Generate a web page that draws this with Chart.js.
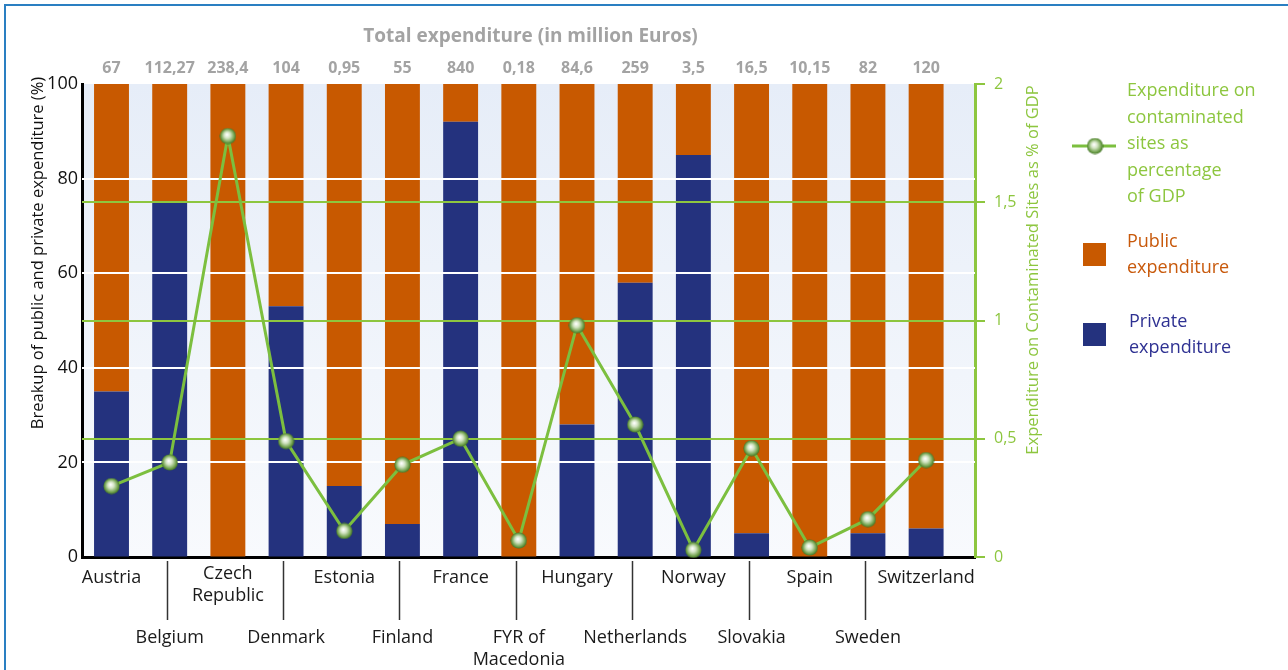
<!DOCTYPE html>
<html><head><meta charset="utf-8">
<script src="https://cdn.jsdelivr.net/npm/chart.js@4.4.1/dist/chart.umd.min.js"></script>
<style>
html,body{margin:0;padding:0;background:#fff;overflow:hidden}
#wrap{position:relative;width:1288px;height:670px}
#frame{position:absolute;left:4px;top:4px;width:1300px;height:700px;border-top:2px solid #2a7fc2;border-left:2px solid #2a7fc2;pointer-events:none}
canvas{display:block}
</style></head><body>
<div id="wrap"><canvas id="c" width="1288" height="670"></canvas><div id="frame"></div></div>
<script>
const categories = ['Austria','Belgium',['Czech','Republic'],'Denmark','Estonia','Finland','France',['FYR of','Macedonia'],'Hungary','Netherlands','Norway','Slovakia','Spain','Sweden','Switzerland'];
const totalExpenditure = ['67','112,27','238,4','104','0,95','55','840','0,18','84,6','259','3,5','16,5','10,15','82','120'];
const privateShare = [35,75,0,53,15,7,92,0,28,58,85,5,0,5,6];
const publicShare = [65,25,100,47,85,93,8,100,72,42,15,95,100,95,94];
const gdpShare = [0.30,0.40,1.78,0.49,0.11,0.39,0.50,0.07,0.98,0.56,0.03,0.46,0.04,0.16,0.41];
const leftGrid = [20,40,60,80];
const rightGrid = [0.5,1,1.5];

const FONT = '"Open Sans", "Noto Sans", sans-serif';
const GREEN = '#8dc63f', LINE = '#7cbf3f', ORANGE = '#c85900', BLUE = '#24327e', GREY = '#a3a3a3';

const marker = document.createElement('canvas');
marker.width = 17; marker.height = 17;
(function(){
  const m = marker.getContext('2d');
  const g = m.createRadialGradient(7.5,7,0.3,8.5,8.5,8.5);
  g.addColorStop(0,'#ffffff'); g.addColorStop(0.35,'#d2e4c2'); g.addColorStop(0.75,'#74a451'); g.addColorStop(1,'#386a1c');
  m.fillStyle = g; m.beginPath(); m.arc(8.5,8.5,8.1,0,Math.PI*2); m.fill();
})();

const idx = categories.map((_, i) => i);

const decor = {
  id: 'decor',
  beforeDraw(chart){
    const {ctx, chartArea:a} = chart;
    const gr = ctx.createLinearGradient(0,a.top,0,a.bottom);
    gr.addColorStop(0,'#e6edf8'); gr.addColorStop(1,'#f8fafd');
    ctx.save(); ctx.fillStyle = gr; ctx.fillRect(a.left,a.top,a.right-a.left,a.bottom-a.top); ctx.restore();
  },
  beforeDatasetDraw(chart, args){
    if (args.meta.type !== 'line') return;
    const {ctx, chartArea:a, scales} = chart;
    ctx.save();
    ctx.lineWidth = 2;
    ctx.strokeStyle = '#ffffff';
    leftGrid.forEach(v => { const y = Math.round(scales.y.getPixelForValue(v)); ctx.beginPath(); ctx.moveTo(a.left, y); ctx.lineTo(a.right, y); ctx.stroke(); });
    ctx.strokeStyle = GREEN;
    rightGrid.forEach(v => { const y = Math.round(scales.y1.getPixelForValue(v)); ctx.beginPath(); ctx.moveTo(a.left, y); ctx.lineTo(a.right, y); ctx.stroke(); });
    ctx.restore();
  },
  afterDraw(chart){
    const {ctx, chartArea:a, scales} = chart;
    const xs = scales.x;
    ctx.save();
    ctx.textAlign = 'center'; ctx.textBaseline = 'middle';
    // title
    ctx.font = `bold 19px ${FONT}`; ctx.fillStyle = GREY;
    ctx.fillText('Total expenditure (in million Euros)', (a.left + a.right)/2 + 2, 37);
    // totals
    ctx.font = `bold 16px ${FONT}`;
    totalExpenditure.forEach((t,i) => ctx.fillText(t, xs.getPixelForValue(i), 68));
    // category labels
    ctx.font = `18px ${FONT}`; ctx.fillStyle = '#1a1a1a';
    categories.forEach((c,i) => {
      const lines = Array.isArray(c) ? c : [c];
      const x = xs.getPixelForValue(i);
      let y0;
      if (i % 2 === 0) y0 = lines.length > 1 ? 574 : 578; else y0 = 638;
      lines.forEach((l,k) => ctx.fillText(l, x, y0 + k*22));
      if (i % 2 === 1) {
        ctx.save(); ctx.strokeStyle = '#333'; ctx.lineWidth = 1.5;
        const xx = Math.round(x) - 2.5;
        ctx.beginPath(); ctx.moveTo(xx, 561); ctx.lineTo(xx, 620); ctx.stroke(); ctx.restore();
      }
    });
    // axis titles
    ctx.font = `16.5px ${FONT}`; ctx.fillStyle = '#111';
    ctx.save(); ctx.translate(38, 253); ctx.rotate(-Math.PI/2);
    ctx.fillText('Breakup of public and private expenditure (%)', 0, 0); ctx.restore();
    ctx.fillStyle = GREEN;
    ctx.save(); ctx.translate(1033, 270); ctx.rotate(-Math.PI/2);
    ctx.fillText('Expenditure on Contaminated Sites as % of GDP', 0, 0); ctx.restore();
    // legend
    ctx.textAlign = 'left';
    ctx.font = `18px ${FONT}`;
    ctx.strokeStyle = LINE; ctx.lineWidth = 3;
    ctx.beginPath(); ctx.moveTo(1072, 146); ctx.lineTo(1116, 146); ctx.stroke();
    ctx.drawImage(marker, 1095 - 8.5, 146 - 8.5);
    ctx.fillStyle = GREEN;
    ['Expenditure on','contaminated','sites as','percentage','of GDP'].forEach((l,k) => ctx.fillText(l, 1127, 91 + k*26.5));
    ctx.fillStyle = ORANGE; ctx.fillRect(1083, 243, 23, 23);
    ctx.fillStyle = '#c8590b';
    ['Public','expenditure'].forEach((l,k) => ctx.fillText(l, 1127, 242 + k*26));
    ctx.fillStyle = BLUE; ctx.fillRect(1083, 323, 23, 23);
    ctx.fillStyle = '#2e3192';
    ['Private','expenditure'].forEach((l,k) => ctx.fillText(l, 1129, 322 + k*25.5));
    ctx.restore();
  }
};

new Chart(document.getElementById('c'), {
  type: 'bar',
  data: {
    datasets: [
      { type:'bar', label:'Private expenditure', data: idx.map(i => ({x:i, y:privateShare[i]})), backgroundColor: BLUE, yAxisID:'y', order:1, barPercentage:0.6, categoryPercentage:1, borderWidth:0 },
      { type:'bar', label:'Public expenditure', data: idx.map(i => ({x:i, y:publicShare[i]})), backgroundColor: ORANGE, yAxisID:'y', order:1, barPercentage:0.6, categoryPercentage:1, borderWidth:0 },
      { type:'line', label:'Expenditure on contaminated sites as percentage of GDP', data: idx.map(i => ({x:i, y:gdpShare[i]})), yAxisID:'y1', order:0, borderColor: LINE, borderWidth:3, tension:0, pointStyle: marker, pointRadius:8, clip:false, fill:false }
    ]
  },
  options: {
    responsive: false,
    animation: false,
    devicePixelRatio: 1,
    layout: { padding: { left:0, right:238, top:84, bottom:0 } },
    plugins: { legend: { display:false }, tooltip: { enabled:false } },
    scales: {
      x: { type:'linear', min:-0.507, max:14.84, offset:false, stacked:true,
           grid:{ display:false }, ticks:{ display:false },
           border:{ display:true, color:'#000', width:3 },
           afterFit: s => { s.height = 113; } },
      y: { type:'linear', position:'left', min:0, max:100, stacked:true,
           ticks:{ stepSize:20, color:'#111', font:{ family:FONT, size:18 }, padding:4 },
           grid:{ drawOnChartArea:false, drawTicks:false },
           border:{ color:'#000', width:3 },
           afterFit: s => { s.width = 82; } },
      y1: { type:'linear', position:'right', min:0, max:2,
           ticks:{ stepSize:0.5, color:GREEN, font:{ family:FONT, size:16 }, padding:9, callback: v => String(v).replace('.', ',') },
           grid:{ drawOnChartArea:false, drawTicks:true, tickLength:10, tickColor:GREEN, tickWidth:2, lineWidth:2, color:GREEN },
           border:{ color:GREEN, width:3 },
           afterFit: s => { s.width = 75; } }
    }
  },
  plugins: [decor]
});
</script>
</body></html>
